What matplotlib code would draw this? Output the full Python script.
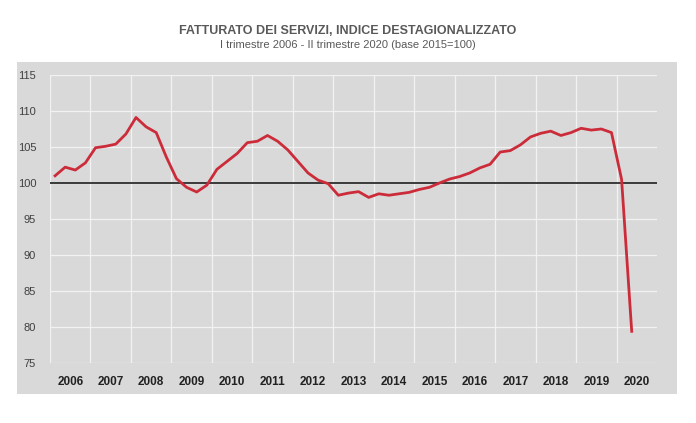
import matplotlib
matplotlib.use("Agg")
import matplotlib.pyplot as plt
from matplotlib.patches import Rectangle

# quarterly index values, 2006Q1 .. 2020Q2
years = list(range(2006, 2021))
values = [
    101.0, 102.2, 101.8, 102.8,   # 2006
    104.9, 105.1, 105.4, 106.8,   # 2007
    109.1, 107.8, 107.0, 103.6,   # 2008
    100.6, 99.4, 98.75, 99.7,     # 2009
    101.9, 103.0, 104.1, 105.6,   # 2010
    105.8, 106.6, 105.8, 104.6,   # 2011
    103.0, 101.4, 100.4, 99.9,    # 2012
    98.3, 98.6, 98.8, 98.0,       # 2013
    98.5, 98.3, 98.5, 98.7,       # 2014
    99.1, 99.4, 100.0, 100.55,    # 2015
    100.9, 101.4, 102.1, 102.6,   # 2016
    104.3, 104.5, 105.3, 106.4,   # 2017
    106.9, 107.2, 106.6, 107.0,   # 2018
    107.6, 107.35, 107.5, 107.0,  # 2019
    100.5, 79.4,                  # 2020
]
yticks = [75, 80, 85, 90, 95, 100, 105, 110, 115]

title = "FATTURATO DEI SERVIZI, INDICE DESTAGIONALIZZATO"
subtitle = "I trimestre 2006 - II trimestre 2020 (base 2015=100)"

plt.rcParams['font.family'] = ['Liberation Sans', 'DejaVu Sans']

fig = plt.figure(figsize=(6.96, 4.23), dpi=100)
fig.patch.set_facecolor('white')

# gray panel behind the plot
panel = Rectangle((17 / 696, 1 - 394 / 423), 660 / 696, 332 / 423,
                  transform=fig.transFigure, facecolor='#d9d9d9',
                  edgecolor='none', zorder=0)
fig.patches.append(panel)

ax = fig.add_axes([50 / 696, 1 - 363 / 423, 607 / 696, 288 / 423])
ax.set_zorder(2)
ax.set_facecolor('#d9d9d9')

x = [i + 0.5 for i in range(len(values))]
ax.plot(x, values, color='#cc2c3a', linewidth=2.0, zorder=3)
ax.axhline(100, color='#3a3a3a', linewidth=1.4, zorder=2)

ax.set_xlim(0, 4 * len(years))
ax.set_ylim(75, 115)

# white grid: year boundaries and every 5 points
for k in range(len(years)):
    ax.axvline(4 * k, color='#f2f2f2', linewidth=0.9, zorder=1)
for v in yticks:
    ax.axhline(v, color='#f2f2f2', linewidth=0.9, zorder=1)

ax.set_yticks(yticks)
ax.set_yticklabels([str(v) for v in yticks], fontsize=8, color='#404040')
ax.set_xticks([4 * k + 2 for k in range(len(years))])
ax.set_xticklabels([str(y) for y in years], fontsize=8.5, fontweight='bold', color='#222222')
ax.tick_params(axis='both', length=0)
ax.tick_params(axis='y', pad=10)
ax.tick_params(axis='x', pad=9)
for s in ax.spines.values():
    s.set_visible(False)

fig.text(0.5, 1 - 31 / 423, title, ha='center', va='center',
         fontsize=9, fontweight='bold', color='#595959')
fig.text(0.5, 1 - 45 / 423, subtitle, ha='center', va='center',
         fontsize=8, color='#595959')

fig.savefig('out.png', dpi=100)
